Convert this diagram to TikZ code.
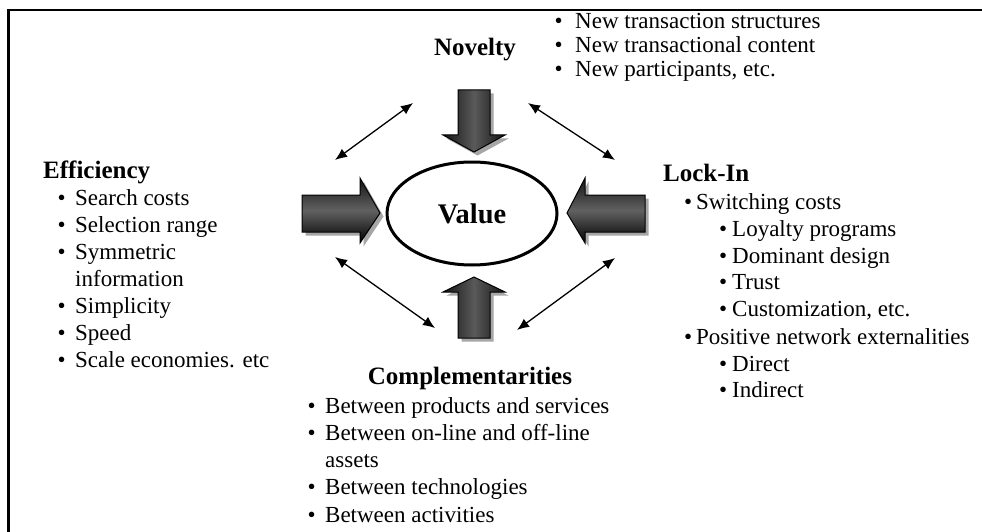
\documentclass[tikz,border=0pt]{standalone}
\usepackage{fontspec}
\setmainfont{Liberation Serif}
\usetikzlibrary{shapes.geometric,shadows,arrows.meta}
\newcommand\bu[1]{\makebox[#1][l]{•}}
\tikzset{
 body/.style={font=\fontsize{23}{27}\selectfont, inner sep=0pt, anchor=base west},
 head/.style={font=\fontsize{25}{30}\selectfont\bfseries, inner sep=0pt},
 bigarrow/.style={draw=black, line width=1pt, drop shadow={shadow xshift=3.5pt, shadow yshift=-3.5pt, fill=black!35, opacity=1}},
 harrow/.style={bigarrow, top color=black!92, bottom color=black, middle color=black!62},
 varrow/.style={bigarrow, left color=black!92, right color=black!92, middle color=black!65},
 link/.style={{Latex[length=12pt,width=10pt]}-{Latex[length=12pt,width=10pt]}, line width=1.3pt},
}
\begin{document}
\begin{tikzpicture}[x=1pt,y=-1pt]
\useasboundingbox (0,0) rectangle (982,532);
\clip (0,0) rectangle (982,532);
\fill[white] (0,0) rectangle (982,532);
% frame
\draw[line width=2.2pt] (8.5,600) -- (8.5,10) -- (1000,10);

% centre
\node[draw, ellipse, line width=3pt, minimum width=170pt, minimum height=103pt,
      font=\fontsize{28.4}{34}\selectfont\bfseries] (value) at (472,213.5) {Value};

% big arrows
\path[varrow] (458,90) -- (490,90) -- (490,135) -- (505,135) -- (474,152) -- (443,135) -- (458,135) -- cycle;
\path[varrow] (458,338) -- (490,338) -- (490,292) -- (505,292) -- (474,277) -- (443,292) -- (458,292) -- cycle;
\path[harrow] (302,195) -- (360,195) -- (360,178) -- (380,213) -- (360,243) -- (360,232) -- (302,232) -- cycle;
\path[harrow] (645,195) -- (585,195) -- (585,178) -- (567,213) -- (585,243) -- (585,232) -- (645,232) -- cycle;

% thin double arrows
\coordinate (ul1) at (335,160); \coordinate (ul2) at (413,103);
\coordinate (ur1) at (528,103); \coordinate (ur2) at (615,160);
\coordinate (ll1) at (335,257); \coordinate (ll2) at (435,328);
\coordinate (lr1) at (615,258); \coordinate (lr2) at (517,330);
\draw[link] (ul1) -- (ul2);
\draw[link] (ur1) -- (ur2);
\draw[link] (ll1) -- (ll2);
\draw[link] (lr1) -- (lr2);

% Novelty
\node[head] (nov) at (475,50) {Novelty};
\node[body] (nov1) at (554.5,28.5) {\bu{20.5pt}New transaction structures};
\node[body] (nov2) at (554.5,52.5) {\bu{20.5pt}New transactional content};
\node[body] (nov3) at (554.5,76.5) {\bu{20.5pt}New participants, etc.};

% Efficiency
\node[head, anchor=base west] (eff) at (43,178) {Efficiency};
\node[body] (eff1) at (57.5,205) {\bu{17.5pt}Search costs};
\node[body] (eff2) at (57.5,232) {\bu{17.5pt}Selection range};
\node[body] (eff3) at (57.5,259) {\bu{17.5pt}Symmetric};
\node[body] (eff3b) at (75,286) {information};
\node[body] (eff4) at (57.5,313) {\bu{17.5pt}Simplicity};
\node[body] (eff5) at (57.5,340) {\bu{17.5pt}Speed};
\node[body] (eff6) at (57.5,367) {\bu{17.5pt}Scale economies. etc};

% Lock-In
\node[head, anchor=base west] (lock) at (663,181) {Lock-In};
\node[body] (lock1) at (684,209.5) {\bu{12pt}Switching costs};
\node[body] (lock2) at (719,236) {\bu{13pt}Loyalty programs};
\node[body] (lock3) at (719,263) {\bu{13pt}Dominant design};
\node[body] (lock4) at (719,289.5) {\bu{13pt}Trust};
\node[body] (lock5) at (719,316) {\bu{13pt}Customization, etc.};
\node[body] (lock6) at (684,344) {\bu{12pt}Positive network externalities};
\node[body] (lock7) at (719,371) {\bu{13pt}Direct};
\node[body] (lock8) at (719,397.5) {\bu{13pt}Indirect};

% Complementarities
\node[head] (comp) at (470,378) {Complementarities};
\node[body] (comp1) at (307.5,413.5) {\bu{17.5pt}Between products and services};
\node[body] (comp2) at (307.5,440.5) {\bu{17.5pt}Between on-line and off-line};
\node[body] (comp2b) at (325,467.5) {assets};
\node[body] (comp3) at (307.5,494.5) {\bu{17.5pt}Between technologies};
\node[body] (comp4) at (307.5,522) {\bu{17.5pt}Between activities};
\end{tikzpicture}
\end{document}
